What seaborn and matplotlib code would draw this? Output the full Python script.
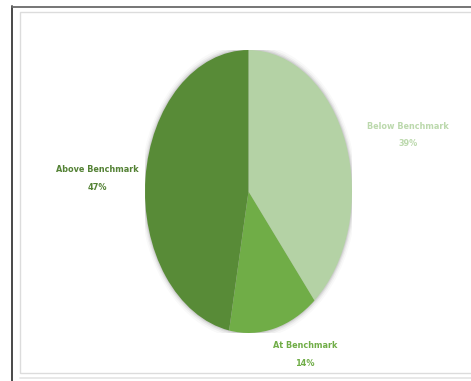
import matplotlib
matplotlib.use("Agg")
import matplotlib.pyplot as plt
from matplotlib.lines import Line2D
from matplotlib.patches import Circle, Rectangle
import seaborn as sns

# Share of results by benchmark category (clockwise from 12 o'clock)
categories = ["Below Benchmark", "At Benchmark", "Above Benchmark"]
shares = [39, 14, 47]
slice_colors = ["#b4d2a5", "#70ad47", "#588b37"]
label_colors = ["#bcd9ad", "#70ad47", "#548235"]

sns.set_theme(style="white")
plt.rcParams["font.family"] = ["DejaVu Sans"]

W, H = 471, 381
fig = plt.figure(figsize=(W / 100, H / 100), dpi=100)
fig.patch.set_facecolor("white")


def fx(px):
    return px / W


def fy(py):
    return 1 - py / H


# Outer frame: dark left/top rule, light inner panel border
fig.add_artist(Line2D([fx(12), fx(12)], [fy(6), fy(381)], color="#3a3a3a", lw=1.3))
fig.add_artist(Line2D([fx(12), fx(471)], [fy(6.5), fy(6.5)], color="#6a6a6a", lw=1.3))
fig.add_artist(Rectangle((fx(20), fy(373)), fx(480) - fx(20), fy(12) - fy(373),
                         transform=fig.transFigure, fill=False,
                         edgecolor="#dcdcdc", lw=1.0))
fig.add_artist(Line2D([fx(20), fx(471)], [fy(377.5), fy(377.5)], color="#e4e4e4", lw=1.2))

# Pie axes: stretched vertically so the pie renders as an ellipse
left, right, top, bottom = 145, 352, 50, 333
ax = fig.add_axes([fx(left), fy(bottom), fx(right) - fx(left), fy(top) - fy(bottom)])
ax.set_aspect("auto")

# Soft halo behind the pie
for r, a in [(1.045, 0.025), (1.03, 0.04), (1.018, 0.06), (1.008, 0.08)]:
    ax.add_patch(Circle((0, 0.0), r, facecolor="black", edgecolor="none", alpha=a, zorder=0))

wedges, _ = ax.pie(shares, colors=slice_colors, startangle=90, counterclock=False,
                   wedgeprops=dict(edgecolor="none", linewidth=0))
for w in wedges:
    w.set_zorder(2)
ax.set_aspect("auto")
ax.set_xlim(-1, 1)
ax.set_ylim(-1, 1)
ax.axis("off")

# Category labels with percentages
label_pos = {
    "Below Benchmark": (408, 127),
    "At Benchmark": (305, 346),
    "Above Benchmark": (97, 170),
}
for cat, val, col in zip(categories, shares, label_colors):
    x, y = label_pos[cat]
    fig.text(fx(x), fy(y), cat, color=col, fontsize=6.5, fontweight="bold",
             fontstretch="condensed", ha="center", va="center")
    fig.text(fx(x), fy(y + 17), f"{val}%", color=col, fontsize=6.5, fontweight="bold",
             fontstretch="condensed", ha="center", va="center")

fig.savefig("out.png", dpi=100, facecolor="white")
